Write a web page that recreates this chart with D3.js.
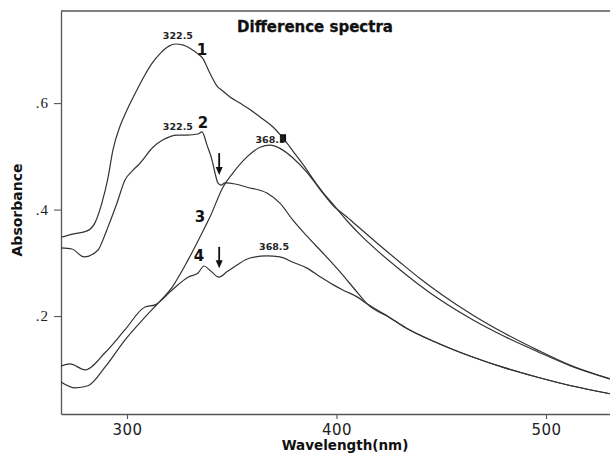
<!DOCTYPE html>
<html>
<head>
<meta charset="utf-8">
<script src="https://cdn.jsdelivr.net/npm/d3@7"></script>
<style>
  body { margin: 0; background: #fff; }
  svg { display: block; }
</style>
</head>
<body>
<script>
// wavelength (nm), absorbance pairs
var curve1 = [[268.5,0.348],[274,0.354],[281,0.36],[284.7,0.375],[288,0.412],[291,0.461],[293.3,0.512],[296.7,0.557],[300,0.587],[304,0.619],[308,0.649],[312,0.675],[316,0.694],[320,0.707],[323,0.711],[327,0.709],[330,0.703],[334,0.692],[336,0.685],[339.6,0.656],[343.4,0.63],[345.3,0.624],[349,0.612],[353.9,0.6],[358.7,0.588],[363.5,0.574],[369.7,0.555],[374.5,0.534],[379.2,0.51],[384,0.485],[390.7,0.447],[393.6,0.432],[398.3,0.41],[405,0.379],[412,0.35],[420,0.321],[430,0.288],[440,0.257],[450,0.229],[465,0.193],[480,0.162],[496,0.133],[512,0.106],[530.5,0.082]];

var curve2 = [[268.5,0.328],[273.7,0.326],[279.5,0.311],[286.2,0.324],[288.5,0.343],[290.9,0.367],[295.2,0.412],[299,0.455],[302.9,0.474],[306.2,0.487],[312.4,0.517],[317.2,0.531],[323.9,0.54],[328.6,0.54],[333.9,0.542],[335.8,0.546],[338.2,0.521],[340.6,0.493],[342,0.469],[343.4,0.45],[344.9,0.446],[346.8,0.45],[351.6,0.448],[357.3,0.442],[366.8,0.431],[373,0.412],[379.2,0.38],[385.9,0.35],[393.6,0.318],[401.7,0.283],[409.8,0.245],[414.6,0.223],[425.5,0.197],[433,0.178],[449,0.148],[465,0.123],[480,0.103],[496,0.085],[512,0.069],[530.5,0.054]];

var curve3 = [[268.5,0.076],[275.2,0.065],[281.4,0.069],[289.5,0.104],[299,0.155],[308.6,0.198],[314.8,0.224],[321.5,0.254],[329.1,0.305],[337.2,0.367],[339.6,0.386],[345.8,0.442],[350.6,0.469],[357.3,0.499],[363.5,0.517],[368.3,0.521],[373,0.515],[379.2,0.497],[385.9,0.47],[392.1,0.438],[398.3,0.408],[405,0.386],[412,0.362],[420,0.335],[430,0.302],[440,0.27],[450,0.241],[465,0.202],[480,0.168],[496,0.136],[512,0.107],[530.5,0.082]];

var curve4 = [[268.5,0.106],[272.8,0.11],[280,0.099],[289.5,0.131],[299,0.174],[308.6,0.217],[313.4,0.221],[321.5,0.249],[329.1,0.273],[333.9,0.281],[336.8,0.294],[339.6,0.286],[343.9,0.273],[347.7,0.283],[352.5,0.296],[358.7,0.309],[366.8,0.313],[373,0.311],[379.2,0.301],[385.9,0.29],[392.1,0.274],[398.3,0.259],[403,0.249],[409.8,0.236],[414.6,0.223],[425.5,0.197],[433,0.178],[449,0.148],[465,0.123],[480,0.103],[496,0.085],[512,0.069],[530.5,0.054]];

var xTicks = [300, 400, 500];
var yTicks = [0.2, 0.4, 0.6];
var yTickLabels = [".2", ".4", ".6"];

// annotations: text, wavelength, absorbance
var peakLabels = [["322.5",324.3,0.726],["322.5",324.3,0.555],["368.5",368.5,0.532],["368.5",370.2,0.331]];
var curveNumbers = [["1",335.8,0.701],["2",336.3,0.564],["3",334.8,0.386],["4",334.4,0.313]];
var arrows = [[344,0.506,0.465],[344,0.33,0.29]];
var marker = [374.5,0.534];

var width = 610, height = 464;
var margin = {top: 11, right: 0, bottom: 50, left: 61};
var plotBottom = height - margin.bottom;

var svg = d3.select("body").append("svg")
    .attr("width", width)
    .attr("height", height);

var x = d3.scaleLinear().domain([268.5, 530.55]).range([margin.left, width - margin.right]);
var y = d3.scaleLinear().domain([0.016, 0.773]).range([plotBottom, margin.top]);

var axisColor = "#555";

// top border
svg.append("line")
    .attr("x1", x.range()[0]).attr("x2", x.range()[1])
    .attr("y1", margin.top).attr("y2", margin.top)
    .attr("stroke", axisColor).attr("stroke-width", 1.3);

// y axis
var gy = svg.append("g")
    .attr("transform", "translate(" + margin.left + ",0)")
    .call(d3.axisLeft(y).tickValues(yTicks)
      .tickFormat(function(d, i) { return yTickLabels[i]; })
      .tickSize(7).tickSizeOuter(0).tickPadding(5));
gy.select(".domain").attr("stroke", axisColor).attr("stroke-width", 1.3);
gy.selectAll(".tick line").attr("stroke", axisColor).attr("stroke-width", 1.1);
gy.selectAll("text")
    .attr("font-family", "Liberation Serif, serif")
    .attr("font-size", 15)
    .attr("letter-spacing", 1)
    .attr("fill", "#222");

// x axis
var gx = svg.append("g")
    .attr("transform", "translate(0," + plotBottom + ")")
    .call(d3.axisBottom(x).tickValues(xTicks)
      .tickSize(5).tickSizeOuter(0).tickPadding(5));
gx.select(".domain").attr("stroke", axisColor).attr("stroke-width", 1.3);
gx.selectAll(".tick line").attr("stroke", axisColor).attr("stroke-width", 1.1);
gx.selectAll("text")
    .attr("font-family", "DejaVu Sans, sans-serif")
    .attr("font-size", 15)
    .attr("letter-spacing", 0.5)
    .attr("fill", "#222");

// curves
var line = d3.line()
    .x(function(d) { return x(d[0]); })
    .y(function(d) { return y(d[1]); })
    .curve(d3.curveMonotoneX);

svg.append("clipPath").attr("id", "plot")
  .append("rect")
    .attr("x", margin.left).attr("y", margin.top)
    .attr("width", width - margin.left).attr("height", plotBottom - margin.top);

svg.append("g").attr("clip-path", "url(#plot)")
  .selectAll("path.curve")
    .data([curve1, curve2, curve3, curve4])
  .enter().append("path")
    .attr("class", "curve")
    .attr("d", line)
    .attr("fill", "none")
    .attr("stroke", "#333")
    .attr("stroke-width", 1.2);

// marker on curve 1
svg.append("rect")
    .attr("x", x(marker[0]) - 3).attr("y", y(marker[1]) - 4)
    .attr("width", 6).attr("height", 8)
    .attr("fill", "#111");

// peak wavelength labels
svg.selectAll("text.peak")
    .data(peakLabels)
  .enter().append("text")
    .attr("class", "peak")
    .attr("x", function(d) { return x(d[1]); })
    .attr("y", function(d) { return y(d[2]); })
    .attr("dy", "0.35em")
    .attr("text-anchor", "middle")
    .attr("font-family", "DejaVu Sans, sans-serif")
    .attr("font-weight", "bold")
    .attr("font-size", 9.5)
    .attr("fill", "#222")
    .text(function(d) { return d[0]; });

// curve numbers
svg.selectAll("text.num")
    .data(curveNumbers)
  .enter().append("text")
    .attr("class", "num")
    .attr("x", function(d) { return x(d[1]); })
    .attr("y", function(d) { return y(d[2]); })
    .attr("dy", "0.36em")
    .attr("text-anchor", "middle")
    .attr("font-family", "DejaVu Sans, sans-serif")
    .attr("font-weight", "bold")
    .attr("font-size", 15)
    .attr("fill", "#111")
    .text(function(d) { return d[0]; });

// arrows pointing down at the dips
var ag = svg.selectAll("g.arrow")
    .data(arrows)
  .enter().append("g").attr("class", "arrow");
ag.append("line")
    .attr("x1", function(d) { return x(d[0]); })
    .attr("x2", function(d) { return x(d[0]); })
    .attr("y1", function(d) { return y(d[1]); })
    .attr("y2", function(d) { return y(d[2]) - 6; })
    .attr("stroke", "#111").attr("stroke-width", 1.8);
ag.append("path")
    .attr("d", function(d) {
      var cx = x(d[0]), cy = y(d[2]);
      return "M" + (cx - 3.5) + "," + (cy - 8) + "L" + (cx + 3.5) + "," + (cy - 8) + "L" + cx + "," + cy + "Z";
    })
    .attr("fill", "#111");

// title
svg.append("text")
    .attr("x", 315).attr("y", 32)
    .attr("text-anchor", "middle")
    .attr("font-family", "DejaVu Sans, sans-serif")
    .attr("font-weight", "bold")
    .attr("font-size", 15)
    .attr("stroke", "#111").attr("stroke-width", 0.3)
    .attr("fill", "#111")
    .text("Difference spectra");

// axis titles
svg.append("text")
    .attr("x", 345).attr("y", 450)
    .attr("text-anchor", "middle")
    .attr("font-family", "DejaVu Sans, sans-serif")
    .attr("font-weight", "bold")
    .attr("font-size", 13.5)
    .attr("fill", "#111")
    .text("Wavelength(nm)");

svg.append("text")
    .attr("transform", "translate(22,210) rotate(-90)")
    .attr("text-anchor", "middle")
    .attr("font-family", "DejaVu Sans, sans-serif")
    .attr("font-weight", "bold")
    .attr("font-size", 14)
    .attr("fill", "#111")
    .text("Absorbance");
</script>
</body>
</html>
